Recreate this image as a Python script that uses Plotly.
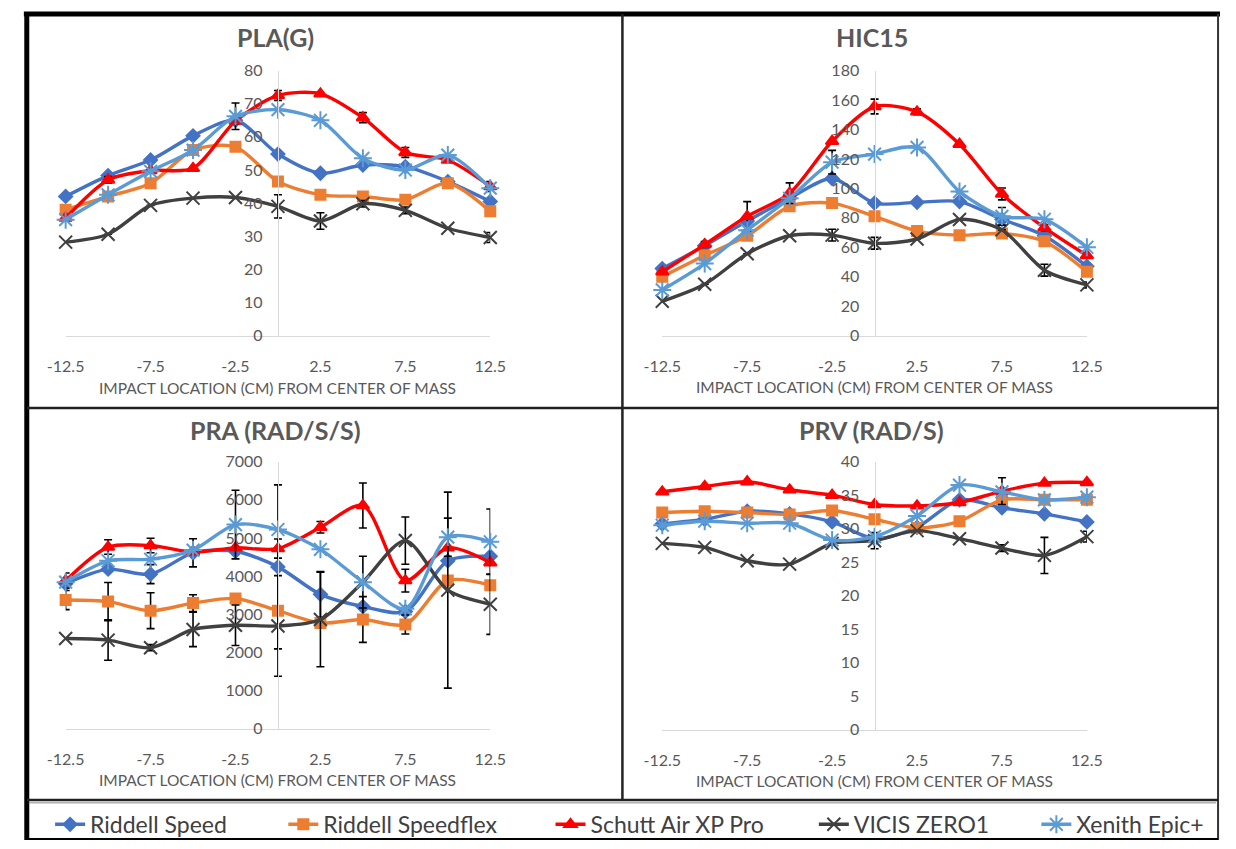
import plotly.graph_objects as go

W, H = 1236, 849

# ---------------- data ----------------
X_POS = [-12.5, -10, -7.5, -5, -2.5, 0, 2.5, 5, 7.5, 10, 12.5]
X_TICKS = [-12.5, -7.5, -2.5, 2.5, 7.5, 12.5]
X_TICK_LABELS = ["-12.5", "-7.5", "-2.5", "2.5", "7.5", "12.5"]

SERIES = ["Riddell Speed", "Riddell Speedflex", "Schutt Air XP Pro", "VICIS ZERO1", "Xenith Epic+"]

PLA_RIDDELL_SPEED = [42, 48.3, 53, 60.3, 65, 54.8, 49, 51.5, 51, 46.5, 40.5]
PLA_SPEEDFLEX = [38, 42, 46, 56, 57, 46.5, 42.5, 42, 41, 46, 37.5]
PLA_SCHUTT = [35.5, 47, 49.8, 50.5, 64.8, 72.5, 73, 65.8, 55.3, 53, 45]
PLA_VICIS = [28.2, 30.6, 39.3, 41.5, 41.7, 39, 34.6, 39.8, 37.8, 32.4, 29.6]
PLA_XENITH = [35, 42.5, 49.6, 56, 66.2, 68.2, 65, 53.5, 50, 54.5, 44.5]
PLA_RIDDELL_SPEED_ERR = [None] * 11
PLA_SPEEDFLEX_ERR = [None] * 11
PLA_SCHUTT_ERR = [1, 1, None, None, 1, 1.5, None, 1.5, 1.5, None, 1.5]
PLA_VICIS_ERR = [None, None, None, None, None, 3.5, 2.5, 1, 1, None, 1.5]
PLA_XENITH_ERR = [None, None, None, None, 4, None, None, None, None, None, None]

HIC_RIDDELL_SPEED = [45.5, 61, 77.8, 93.3, 106.7, 90, 90.5, 91, 79, 67.8, 47]
HIC_SPEEDFLEX = [40, 54.4, 67.8, 87.8, 90, 81, 71, 68.2, 69.3, 64, 43.3]
HIC_SCHUTT = [43.3, 61.8, 81, 96.7, 132, 155.6, 152, 130, 96.2, 73.3, 54.4]
HIC_VICIS = [23.3, 34.9, 55.6, 67.8, 68.2, 62.7, 65.6, 78.9, 71.8, 44.4, 34.4]
HIC_XENITH = [31, 48.9, 71.6, 93.3, 117.8, 123.3, 127.8, 97.8, 81, 79, 60]
HIC_RIDDELL_SPEED_ERR = [None] * 11
HIC_SPEEDFLEX_ERR = [None] * 11
HIC_SCHUTT_ERR = [None, 2, 10, 7, None, 5, 2, None, 4, 2, None]
HIC_VICIS_ERR = [None, None, None, None, 4, 4, None, None, None, 4, 2]
HIC_XENITH_ERR = [None, None, None, None, 8, None, None, None, 6, None, None]

PRA_RIDDELL_SPEED = [3800, 4180, 4050, 4610, 4650, 4240, 3520, 3200, 3070, 4400, 4520]
PRA_SPEEDFLEX = [3370, 3330, 3090, 3290, 3410, 3090, 2770, 2860, 2730, 3880, 3760]
PRA_SCHUTT = [3880, 4760, 4800, 4630, 4740, 4720, 5280, 5850, 3880, 4740, 4350]
PRA_VICIS = [2360, 2320, 2120, 2600, 2710, 2690, 2860, 3840, 4930, 3630, 3260]
PRA_XENITH = [3840, 4400, 4440, 4680, 5350, 5220, 4700, 3840, 3140, 5020, 4900]
PRA_RIDDELL_SPEED_ERR = [None, None, 250, 370, None, 2150, 600, None, None, None, None]
PRA_SPEEDFLEX_ERR = [250, 500, 470, 220, None, None, None, 600, 250, None, None]
PRA_SCHUTT_ERR = [200, 190, 190, None, None, 250, 150, 590, 300, None, None]
PRA_VICIS_ERR = [None, 530, 80, 450, 530, 1320, 1240, 680, 620, 2570, 790]
PRA_XENITH_ERR = [None, None, None, None, 900, None, None, None, None, 500, 860]

PRV_RIDDELL_SPEED = [30.7, 31.4, 32.6, 32.2, 31, 28.5, 30.2, 34.3, 33.1, 32.2, 31]
PRV_SPEEDFLEX = [32.4, 32.6, 32.4, 32.1, 32.7, 31.4, 30.1, 31.1, 34.3, 34.3, 34.3]
PRV_SCHUTT = [35.5, 36.3, 37, 35.8, 35, 33.6, 33.4, 33.9, 35.6, 36.8, 36.9]
PRV_VICIS = [27.8, 27.2, 25.2, 24.7, 27.8, 28.2, 29.7, 28.5, 27.1, 26, 28.8]
PRV_XENITH = [30.5, 31.1, 30.8, 30.8, 28.3, 28.8, 31.9, 36.5, 35.5, 34.3, 34.7]
PRV_RIDDELL_SPEED_ERR = [None] * 11
PRV_SPEEDFLEX_ERR = [None] * 11
PRV_SCHUTT_ERR = [None, None, None, None, None, None, None, None, 2, None, None]
PRV_VICIS_ERR = [None, None, None, None, None, 1.2, None, None, 0.5, 2.7, 0.8]
PRV_XENITH_ERR = [None] * 11

PANEL_TITLES = ["PLA(G)", "HIC15", "PRA (RAD/S/S)", "PRV (RAD/S)"]
AXIS_TITLE = "IMPACT LOCATION (CM) FROM CENTER OF MASS"
Y_MAX = [80, 180, 7000, 40]
Y_DTICK = [10, 20, 1000, 5]

# ---------------- styles ----------------
COLORS = ["#4472C4", "#ED7D31", "#FF0000", "#404040", "#5B9BD5"]
SYMBOLS = ["diamond", "square", "triangle-up", "x-thin-open", "asterisk-open"]
MSIZE = [10, 10, 11, 13, 15]

PANELS = [
    ([PLA_RIDDELL_SPEED, PLA_SPEEDFLEX, PLA_SCHUTT, PLA_VICIS, PLA_XENITH],
     [PLA_RIDDELL_SPEED_ERR, PLA_SPEEDFLEX_ERR, PLA_SCHUTT_ERR, PLA_VICIS_ERR, PLA_XENITH_ERR]),
    ([HIC_RIDDELL_SPEED, HIC_SPEEDFLEX, HIC_SCHUTT, HIC_VICIS, HIC_XENITH],
     [HIC_RIDDELL_SPEED_ERR, HIC_SPEEDFLEX_ERR, HIC_SCHUTT_ERR, HIC_VICIS_ERR, HIC_XENITH_ERR]),
    ([PRA_RIDDELL_SPEED, PRA_SPEEDFLEX, PRA_SCHUTT, PRA_VICIS, PRA_XENITH],
     [PRA_RIDDELL_SPEED_ERR, PRA_SPEEDFLEX_ERR, PRA_SCHUTT_ERR, PRA_VICIS_ERR, PRA_XENITH_ERR]),
    ([PRV_RIDDELL_SPEED, PRV_SPEEDFLEX, PRV_SCHUTT, PRV_VICIS, PRV_XENITH],
     [PRV_RIDDELL_SPEED_ERR, PRV_SPEEDFLEX_ERR, PRV_SCHUTT_ERR, PRV_VICIS_ERR, PRV_XENITH_ERR]),
]

# pixel geometry of each panel: (left, right, top, bottom) of plotting area
GEOM = [(48, 485, 62, 333), (662, 1099, 62, 333), (48, 485, 462, 735), (662, 1099, 462, 736)]
TITLE_Y = [28, 28, 430, 430]
AXTITLE_Y = [387, 386, 788, 789]


def px(x):
    return x / W


def py(y):
    return 1 - y / H


LEGEND_NAMES = ["legend", "legend2", "legend3", "legend4", "legend5"]
LEGEND_TEXT_X = [72, 312, 587, 858, 1087]

fig = go.Figure()
GRAY = "#595959"
FONT = "Lato"

for p, (vals, errs) in enumerate(PANELS):
    suffix = "" if p == 0 else str(p + 1)
    for s in range(5):
        err = errs[s]
        fig.add_trace(go.Scatter(
            x=X_POS, y=vals[s], name=SERIES[s], mode="lines+markers",
            xaxis="x" + suffix, yaxis="y" + suffix,
            line=dict(color=COLORS[s], width=3.4, shape="spline", smoothing=0.8),
            marker=dict(symbol=SYMBOLS[s], size=MSIZE[s], color=COLORS[s],
                        line=dict(color=COLORS[s], width=2)),
            error_y=dict(type="data", array=err, color="black", thickness=1.6, width=4,
                         visible=any(e is not None for e in err)),
            cliponaxis=False,
            showlegend=(p == 0),
            legend=LEGEND_NAMES[s],
        ))

layout = dict(
    width=W, height=H, margin=dict(l=0, r=0, t=0, b=0),
    paper_bgcolor="white", plot_bgcolor="white",
    font=dict(family=FONT, color=GRAY),
)

annotations = []
for p in range(4):
    l, r, t, b = GEOM[p]
    suffix = "" if p == 0 else str(p + 1)
    layout["xaxis" + suffix] = dict(
        domain=[px(l), px(r)], range=[-12.5, 12.5], anchor="y" + suffix,
        tickvals=X_TICKS, ticktext=X_TICK_LABELS, showgrid=False, zeroline=False,
        showline=True, linecolor="#D9D9D9", linewidth=1.3, ticks="",
        ticklabelstandoff=16, tickfont=dict(family=FONT, size=16, color=GRAY),
        fixedrange=True,
    )
    layout["yaxis" + suffix] = dict(
        domain=[py(b), py(t)], range=[0, Y_MAX[p]], dtick=Y_DTICK[p],
        anchor="free", position=px((l + r) / 2), showgrid=False, zeroline=False,
        showline=True, linecolor="#D9D9D9", linewidth=1.3, ticks="",
        ticklabelstandoff=12, tickfont=dict(family=FONT, size=16, color=GRAY),
        fixedrange=True,
    )
    annotations.append(dict(
        text="<b>" + PANEL_TITLES[p] + "</b>", x=px((l + r) / 2 - 3), y=py(TITLE_Y[p]),
        xref="paper", yref="paper", showarrow=False, xanchor="center", yanchor="middle",
        font=dict(family=FONT, size=25, color=GRAY),
    ))
    annotations.append(dict(
        text=AXIS_TITLE, x=px((l + r) / 2), y=py(AXTITLE_Y[p]),
        xref="paper", yref="paper", showarrow=False, xanchor="center", yanchor="middle",
        font=dict(family=FONT, size=15.5, color=GRAY),
    ))

for i, name in enumerate(LEGEND_NAMES):
    layout[name] = dict(
        x=px(LEGEND_TEXT_X[i] - 40), y=py(833), xanchor="left", yanchor="middle",
        orientation="h", bgcolor="rgba(0,0,0,0)", borderwidth=0,
        font=dict(family=FONT, size=23, color="#404040"),
    )

shapes = []


def hline(y, x0, x1, w, c="black"):
    shapes.append(dict(type="line", xref="paper", yref="paper", x0=px(x0), x1=px(x1),
                       y0=py(y), y1=py(y), line=dict(color=c, width=w)))


def vline(x, y0, y1, w, c="black"):
    shapes.append(dict(type="line", xref="paper", yref="paper", x0=px(x), x1=px(x),
                       y0=py(y0), y1=py(y1), line=dict(color=c, width=w)))


hline(4, 5, 1236, 5)
vline(8, 2, 849, 5)
vline(1234, 4, 849, 2, "#333333")
hline(848, 8, 1234, 2)
vline(621, 4, 808, 2.5, "#222222")
hline(407, 8, 1234, 2.5, "#222222")
hline(808, 8, 1234, 2.5, "#222222")
hline(811, 10, 1232, 1, "#888888")

layout["annotations"] = annotations
layout["shapes"] = shapes
fig.update_layout(**layout)

fig.write_html("out.html")
